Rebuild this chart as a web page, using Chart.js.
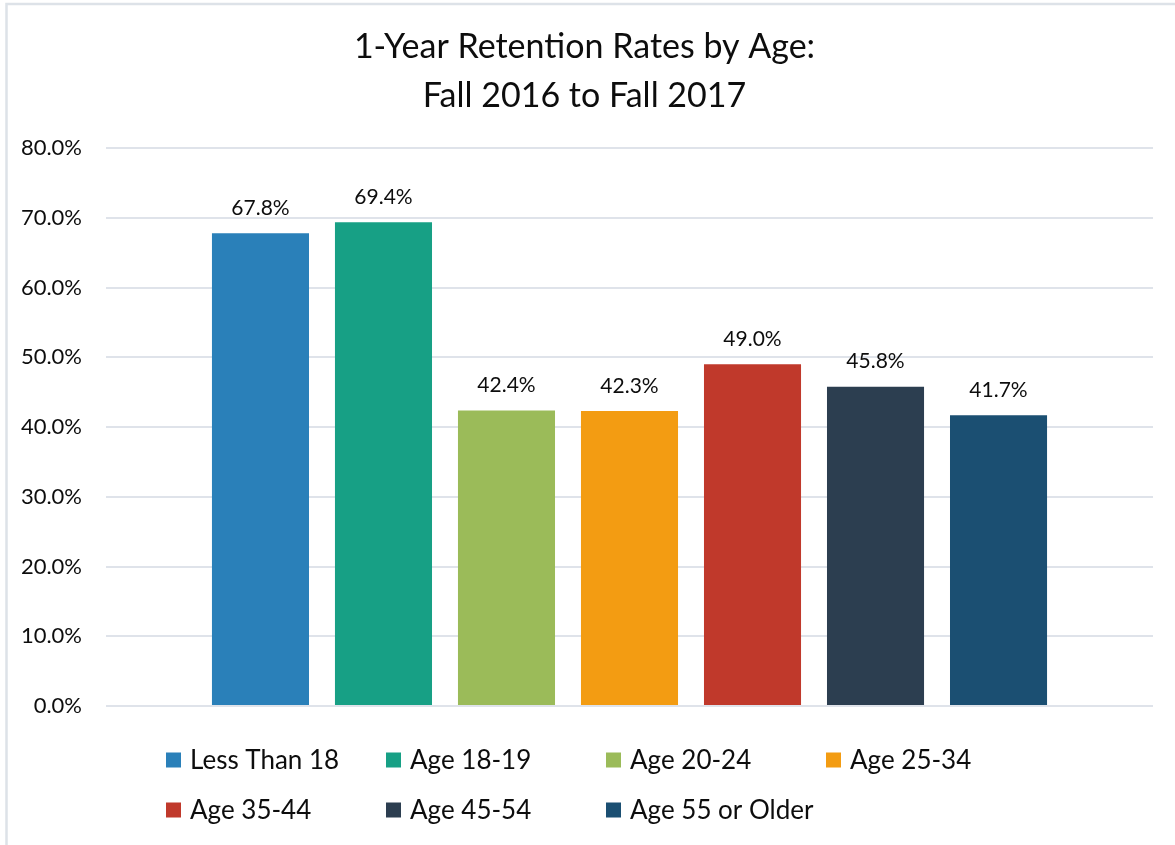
<!DOCTYPE html>
<html>
<head>
<meta charset="utf-8">
<script src="https://cdn.jsdelivr.net/npm/chart.js@4.4.1/dist/chart.umd.min.js"></script>
<style>
  html, body { margin: 0; padding: 0; background: #ffffff; }
  #wrap { position: relative; width: 1175px; height: 845px; }
</style>
</head>
<body>
<div id="wrap"><canvas id="c" width="1175" height="845"></canvas></div>
<script>
const titleLines = ['1-Year Retention Rates by Age:', 'Fall 2016 to Fall 2017'];
const categories = [''];
const seriesNames = ['Less Than 18', 'Age 18-19', 'Age 20-24', 'Age 25-34', 'Age 35-44', 'Age 45-54', 'Age 55 or Older'];
const seriesValues = [67.8, 69.4, 42.4, 42.3, 49.0, 45.8, 41.7];
const seriesColors = ['#2a80b9', '#17a085', '#9bbb59', '#f39c12', '#c0392b', '#2c3e50', '#1b4f72'];
const yTicks = [0, 10, 20, 30, 40, 50, 60, 70, 80];

const FONT = 'Lato, "Open Sans", sans-serif';
const TEXT = '#0d0d0d';

const frame = {
  id: 'frame',
  beforeDraw(chart) {
    const ctx = chart.ctx;
    ctx.save();
    ctx.fillStyle = '#ffffff';
    ctx.fillRect(0, 0, chart.width, chart.height);
    ctx.strokeStyle = '#dde2e8';
    ctx.lineWidth = 2.5;
    ctx.beginPath();
    ctx.moveTo(6.5, chart.height);
    ctx.lineTo(6.5, 4);
    ctx.lineTo(chart.width, 4);
    ctx.stroke();
    ctx.restore();
  }
};

const valueLabels = {
  id: 'valueLabels',
  afterDatasetsDraw(chart) {
    const ctx = chart.ctx;
    ctx.save();
    ctx.font = '21px ' + FONT;
    ctx.fillStyle = TEXT;
    ctx.textAlign = 'center';
    ctx.textBaseline = 'middle';
    chart.data.datasets.forEach((ds, i) => {
      const meta = chart.getDatasetMeta(i);
      meta.data.forEach((el, j) => {
        ctx.fillText(ds.data[j].toFixed(1) + '%', el.x, el.y - 25);
      });
    });
    ctx.restore();
  }
};

const gridLegend = {
  id: 'gridLegend',
  afterDraw(chart) {
    const ctx = chart.ctx;
    const area = chart.chartArea;
    const perRow = 4, colW = 220, rowH = 50, box = 15;
    const x0 = area.left + 60;
    const y0 = area.bottom + 54;
    ctx.save();
    ctx.font = '26px ' + FONT;
    ctx.textBaseline = 'middle';
    ctx.textAlign = 'left';
    chart.data.datasets.forEach((ds, i) => {
      const col = i % perRow, row = Math.floor(i / perRow);
      const x = x0 + col * colW, y = y0 + row * rowH;
      ctx.fillStyle = ds.backgroundColor;
      ctx.fillRect(x, y - box / 2, box, box);
      ctx.fillStyle = TEXT;
      ctx.fillText(ds.label, x + box + 9, y + 1);
    });
    ctx.restore();
  }
};

const datasets = seriesNames.map((name, i) => ({
  label: name,
  data: [seriesValues[i]],
  backgroundColor: seriesColors[i],
  borderWidth: 0,
  categoryPercentage: 0.8224,
  barPercentage: 0.789
}));

new Chart(document.getElementById('c'), {
  type: 'bar',
  data: { labels: categories, datasets },
  options: {
    responsive: false,
    animation: false,
    events: [],
    layout: { padding: { left: 16, right: 22, top: 0, bottom: 139 } },
    plugins: {
      legend: { display: false },
      tooltip: { enabled: false },
      title: {
        display: true,
        text: titleLines,
        color: TEXT,
        font: { family: FONT, size: 34, weight: 'normal', lineHeight: 1.43 },
        padding: { top: 23, bottom: 28 }
      }
    },
    scales: {
      x: {
        display: false,
        grid: { display: false }
      },
      y: {
        min: 0,
        max: 80,
        afterBuildTicks(scale) { scale.ticks = yTicks.map(v => ({ value: v })); },
        afterFit(scale) { scale.width = 90; },
        border: { display: false },
        grid: { color: '#dfe3ea', lineWidth: 2, drawTicks: false },
        ticks: {
          padding: 24,
          color: TEXT,
          font: { family: FONT, size: 22 },
          callback: v => v.toFixed(1) + '%'
        }
      }
    }
  },
  plugins: [frame, valueLabels, gridLegend]
});
</script>
</body>
</html>
